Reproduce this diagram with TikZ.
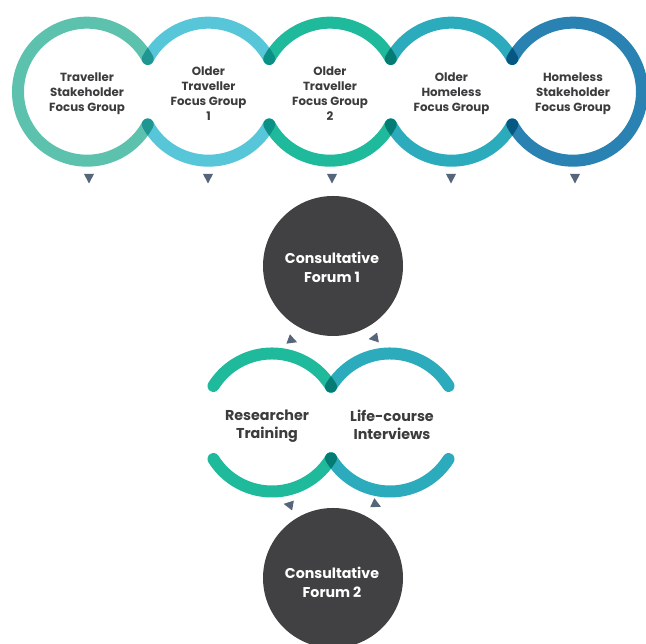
\documentclass[tikz,border=0pt]{standalone}
\usepackage{fontspec}
\setmainfont{Poppins}
\usetikzlibrary{shapes.geometric,calc}
\definecolor{ringA}{HTML}{5DC2AD}
\definecolor{ringB}{HTML}{56C6D8}
\definecolor{ringC}{HTML}{1FBA9C}
\definecolor{ringD}{HTML}{2CABBD}
\definecolor{ringE}{HTML}{2982B2}
\definecolor{darkC}{HTML}{414143}
\definecolor{triC}{HTML}{56657A}
\definecolor{txtC}{HTML}{3C3C3E}
\begin{document}
\begin{tikzpicture}[x=1pt,y=1pt,
  ring/.style={line width=12pt,line cap=round},
  tri/.style={isosceles triangle,isosceles triangle stretches,fill=triC,inner sep=0pt,minimum height=9.5pt,minimum width=10pt},
  ringtext/.style={font=\bfseries\fontsize{11.8}{15}\selectfont,text=txtC,align=center,yshift=-2pt},
  lowtext/.style={font=\bfseries\fontsize{14.3}{18}\selectfont,text=txtC,align=center},
  forum/.style={circle,fill=darkC,minimum size=140pt,inner sep=0pt},
  forumtext/.style={text=white,align=center,font=\bfseries\fontsize{14.2}{19}\selectfont}]
\useasboundingbox (0,0) rectangle (646,644);
\fill[white] (0,0) rectangle (646,644);
% ring centres
\coordinate (r1) at (87,552.3);
\coordinate (r2) at (208.5,552.3);
\coordinate (r3) at (330,552.3);
\coordinate (r4) at (451.5,552.3);
\coordinate (r5) at (573,552.3);
\coordinate (lL) at (272,221.5);
\coordinate (lR) at (390,221.5);
\begin{scope}[blend mode=multiply]
\draw[ring,ringA] ([shift={(28.3:69)}]r1) arc[start angle=28.3,end angle=331.7,radius=69];
\draw[ring,ringB] ([shift={(28.3:69)}]r2) arc[start angle=28.3,end angle=151.7,radius=69];
\draw[ring,ringB] ([shift={(208.3:69)}]r2) arc[start angle=208.3,end angle=331.7,radius=69];
\draw[ring,ringC] ([shift={(28.3:69)}]r3) arc[start angle=28.3,end angle=151.7,radius=69];
\draw[ring,ringC] ([shift={(208.3:69)}]r3) arc[start angle=208.3,end angle=331.7,radius=69];
\draw[ring,ringD] ([shift={(28.3:69)}]r4) arc[start angle=28.3,end angle=151.7,radius=69];
\draw[ring,ringD] ([shift={(208.3:69)}]r4) arc[start angle=208.3,end angle=331.7,radius=69];
\draw[ring,ringE] ([shift={(151.7:69)}]r5) arc[start angle=151.7,end angle=-151.7,radius=69];
\draw[ring,ringC] ([shift={(31.2:69)}]lL) arc[start angle=31.2,end angle=148,radius=69];
\draw[ring,ringC] ([shift={(212:69)}]lL) arc[start angle=212,end angle=328.8,radius=69];
\draw[ring,ringD] ([shift={(32:69)}]lR) arc[start angle=32,end angle=148.8,radius=69];
\draw[ring,ringD] ([shift={(211.2:69)}]lR) arc[start angle=211.2,end angle=328,radius=69];
\end{scope}
% texts
\node[ringtext] (t1) at (r1) {Traveller\\Stakeholder\\Focus Group};
\node[ringtext] (t2) at (r2) {Older\\Traveller\\Focus Group\\1};
\node[ringtext] (t3) at (r3) {Older\\Traveller\\Focus Group\\2};
\node[ringtext] (t4) at (r4) {Older\\Homeless\\Focus Group};
\node[ringtext] (t5) at (r5) {Homeless\\Stakeholder\\Focus Group};
\node[lowtext] (rt) at (267,218) {Researcher\\Training};
\node[lowtext] (li) at (392,219) {Life-course\\Interviews};
% forums
\node[forum] (f1) at (333,378) {};
\node[forumtext] (f1t) at (332,377) {Consultative\\Forum 1};
\node[forum] (f2) at (333,66) {};
\node[forumtext] (f2t) at (332,62) {Consultative\\Forum 2};
% triangles
\node[tri,rotate=-90] (a1) at (89,467) {};
\node[tri,rotate=-90] (a2) at (208,467) {};
\node[tri,rotate=-90] (a3) at (332,467) {};
\node[tri,rotate=-90] (a4) at (451,467) {};
\node[tri,rotate=-90] (a5) at (575,467) {};
\node[tri,rotate=-20] (b1) at (291,304) {};
\node[tri,rotate=190] (b2) at (375,306) {};
\node[tri,rotate=170] (b3) at (290,139) {};
\node[tri,rotate=-25] (b4) at (375,140) {};
\end{tikzpicture}
\end{document}
